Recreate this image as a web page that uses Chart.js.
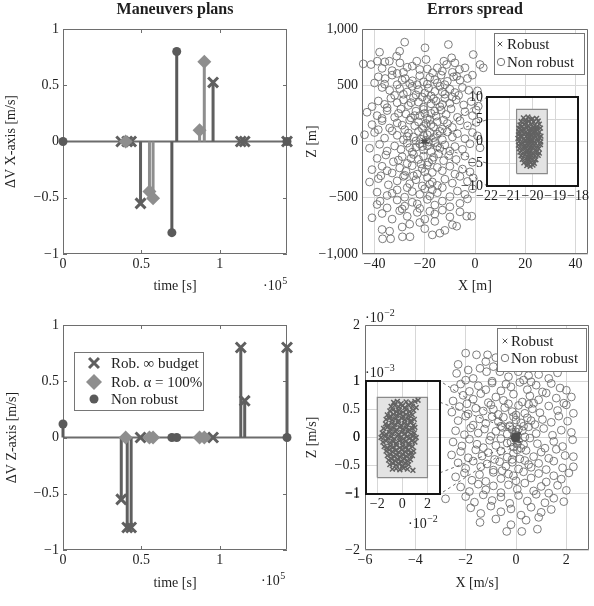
<!DOCTYPE html>
<html>
<head>
<meta charset="utf-8">
<title>Maneuvers plans / Errors spread</title>
<script src="https://cdn.jsdelivr.net/npm/chart.js@4.4.1/dist/chart.umd.min.js"></script>
<style>
  html, body { margin: 0; padding: 0; background: #fff; }
  #figure { position: relative; width: 594px; height: 606px; overflow: hidden; }
  #figure canvas { position: absolute; }
</style>
</head>
<body>
<div id="figure"></div>
<script>
// ---------- data: maneuver plans (time in s, delta-V in m/s) ----------
const tCross     = [37200, 41000, 43500, 49500, 95800, 113500, 116000, 143000];
const dvXCross   = [0, 0, 0, -0.55, 0.525, 0, 0, 0];
const dvZCross   = [-0.55, -0.8, -0.8, 0, 0, 0.8, 0.326, 0.8];
const tDiamond   = [40000, 55200, 57500, 87200, 90200];
const dvXDiamond = [0, -0.445, -0.505, 0.1, 0.71];
const dvZDiamond = [0, 0, 0, 0, 0];
const tCircle    = [0, 69500, 72600, 143000];
const dvXCircle  = [0, -0.81, 0.8, 0];
const dvZCircle  = [0.12, 0, 0, 0];
const stemSeries = ['Rob. \u221e budget', 'Rob. \u03b1 = 100%', 'Non robust'];
const timeTicks  = [0, 50000, 100000];
const dvTicks    = [-1, -0.5, 0, 0.5, 1];

// ---------- data: errors spread, position (m) ----------
const spreadSeries = ['Robust', 'Non robust'];
const posXTicks = [-40, -20, 0, 20, 40];
const posZTicks = [-1000, -500, 0, 500, 1000];
const insetPosXTicks = [-22, -21, -20, -19, -18];
const insetPosZTicks = [-10, -5, 0, 5, 10];
const boxPosX = [-20.7, -19.35];
const boxPosZ = [-7.2, 7.2];
const nonRobustPos = [
  [-28,883],[-10.6,862],[-19.9,833],[-38,794],[-30,803],[-0.7,773],
  [-44.5,690],[-41.4,684],[-38.9,714],[-35.9,708],[-34.1,714],[-31.2,758],[-29.9,699],[-23.2,714],[-19.5,729],[-12.4,714],[-9.3,744],[-8,699],[2,684],[3.3,655],
  [-37,650],[-33,630],[-27,660],[-25,670],[-22,640],[-19,645],[-15,655],[-11.3,684],[-6.2,640],[-4,655],[-16.9,610],[-13,625],[-9,615],[-28.5,615],[-31,605],
  [-38.5,575],[-35.8,560],[-33,590],[-29,545],[-27.8,560],[-24.9,540],[-22,585],[-20.5,530],[-18,570],[-16,550],[-13.5,590],[-11,535],[-8.5,575],[-6,545],[-3,560],[-40,520],[-36,510],[-31,505],[-26,515],[-23,505],[-19,510],[-15,520],[-12,505],[-7.3,580],[-1,590],
  [-37,480],[-34,455],[-30,470],[-27,440],[-25,490],[-22.5,460],[-20,430],[-18.5,475],[-16,445],[-14,490],[-12,420],[-10,465],[-8,435],[-5,480],[-2.5,455],[1,450],[-32,410],[-23.5,415],[-17.5,405],[-13,440],[-6.5,410],[-28.5,420],
  [-41,310],[-38.5,360],[-36,330],[-33.5,385],[-31,345],[-28.5,370],[-26.5,320],[-24.5,390],[-22.5,350],[-20.5,305],[-19,375],[-17.5,335],[-15.5,360],[-14,310],[-12,385],[-10,340],[-7.5,370],[-4.5,325],[-1.5,355],[1.3,314],[-35,300],[-25.5,345],[-21,395],[-16.5,380],[-13,330],[-9,395],
  [-43,260],[-39,230],[-35,275],[-32,215],[-29.5,290],[-27.5,245],[-25.5,210],[-23.5,270],[-22,230],[-20.5,285],[-19,205],[-17.5,250],[-15.5,225],[-13.5,280],[-11.5,240],[-9.5,290],[-7,215],[-4,265],[-1,230],[0.5,280],[-30.5,250],[-20,250],[-16,270],[-37,205],[-24,230],
  [-41,150],[-37,185],[-34,120],[-31,165],[-28,105],[-26,190],[-24,140],[-22.5,175],[-21,115],[-19.5,160],[-18,195],[-16.5,130],[-15,175],[-13,110],[-11,160],[-9,125],[-6,185],[-3,140],[0.5,170],[-29,145],[-20.5,135],[-17.5,150],[-12.5,190],[-38.5,105],
  [-44,60],[-40,80],[-36,30],[-33,95],[-31,55],[-28.5,15],[-26.5,75],[-24.5,40],[-22.5,90],[-21.5,20],[-20.5,55],[-19.5,10],[-18,80],[-16.5,35],[-15,65],[-13,15],[-11,85],[-9,40],[-7,70],[-4,25],[-1,80],[1,50],[-27,45],[-19,60],[-14,90],[-23.5,5],
  [-42,-60],[-38,-25],[-35,-85],[-32,-40],[-29.5,-70],[-27,-15],[-25,-95],[-23.5,-50],[-22,-20],[-20.5,-75],[-19,-40],[-17.5,-90],[-16,-10],[-14,-60],[-12,-30],[-10,-85],[-8,-45],[-5,-70],[-2,-20],[2,-56],[-26,-55],[-18.5,-5],[-15,-45],[-21,-45],
  [-39,-150],[-35.5,-120],[-32.5,-180],[-29,-135],[-27,-195],[-24.5,-115],[-22.5,-160],[-20.5,-130],[-18.5,-185],[-16.5,-140],[-14.5,-110],[-12.5,-170],[-10.5,-125],[-7.5,-160],[-4,-130],[-1,-185],[-30.5,-165],[-21.5,-200],[-17,-165],[-25.5,-150],
  [-41,-250],[-37,-220],[-33,-280],[-30,-235],[-27.5,-265],[-25,-215],[-23,-290],[-21,-240],[-19,-210],[-17,-275],[-15,-230],[-13,-260],[-10,-220],[-8,-290],[-5,-245],[-2,-270],[-28,-300],[-20,-270],[-35,-260],
  [-42,-360],[-38.5,-330],[-34.5,-385],[-31,-350],[-28.5,-310],[-26,-375],[-23.5,-340],[-21,-395],[-19,-320],[-17,-360],[-15,-390],[-12,-335],[-9,-370],[-6,-310],[-3,-355],[-0.7,-323],[-24.5,-305],[-18,-380],[-37.5,-305],
  [-39,-450],[-35,-480],[-31,-430],[-28,-495],[-25,-445],[-22,-470],[-20,-420],[-18,-485],[-15,-455],[-13,-410],[-10,-490],[-7,-440],[-4,-470],[-1,-420],[-27,-410],[-17,-430],[-33,-460],
  [-39,-560],[-37.8,-530],[-35,-590],[-31,-520],[-28,-575],[-25,-540],[-22,-595],[-19,-515],[-16,-565],[-13,-530],[-10,-580],[-6,-550],[-3,-510],[-23,-555],[-29,-600],
  [-41,-678],[-37,-640],[-33,-690],[-30,-615],[-27,-665],[-23,-630],[-20,-690],[-16,-645],[-13,-610],[-10,-670],[-6,-625],[-3.3,-664],[-1.3,-664],[-18,-620],
  [-37,-782],[-34,-797],[-29,-760],[-26,-735],[-20,-775],[-16,-710],[-12,-790],[-9,-740],[-7.3,-753],[-22,-720],
  [-36.8,-865],[-33.6,-865],[-28.9,-847],[-25.9,-847],[-17,-830],[-14,-815]
];
const robustPos = [
  [-20.4,5.3],[-20.2,5.5],[-20.0,5.1],[-19.82,5.2],[-20.3,4.8],
  [-20.5,4.5],[-20.3,4.3],[-20.15,4.6],[-19.95,4.4],[-19.75,4.6],[-20.05,4.9],
  [-20.55,3.7],[-20.35,3.9],[-20.2,3.5],[-20.05,3.8],[-19.9,3.6],[-19.7,3.9],[-20.45,3.4],[-19.8,3.3],
  [-20.6,3.0],[-20.4,2.8],[-20.25,3.1],[-20.1,2.9],[-19.95,3.1],[-19.8,2.8],[-19.65,3.0],[-20.5,2.6],[-20.0,2.6],
  [-20.6,2.2],[-20.45,2.4],[-20.3,2.1],[-20.15,2.3],[-20.0,2.0],[-19.85,2.3],[-19.7,2.1],[-20.55,1.9],[-20.2,1.8],[-19.9,1.9],
  [-20.62,1.5],[-20.5,1.3],[-20.35,1.6],[-20.2,1.4],[-20.05,1.6],[-19.9,1.3],[-19.75,1.5],[-19.63,1.2],[-20.28,1.1],[-20.1,1.0],
  [-20.64,0.7],[-20.5,0.9],[-20.38,0.6],[-20.22,0.8],[-20.08,0.5],[-19.95,0.8],[-19.8,0.6],[-19.68,0.8],[-20.3,0.3],[-20.0,0.3],[-20.15,0.2],
  [-20.6,0.0],[-20.45,-0.2],[-20.3,0.1],[-20.18,-0.1],[-20.05,0.0],[-19.9,-0.2],[-19.76,0.1],[-19.64,-0.1],[-20.25,-0.4],[-20.1,-0.3],[-19.98,-0.5],
  [-20.62,-0.8],[-20.48,-0.6],[-20.33,-0.9],[-20.2,-0.7],[-20.06,-1.0],[-19.92,-0.8],[-19.78,-0.9],[-19.65,-0.7],[-20.4,-1.2],[-20.12,-1.3],
  [-20.58,-1.6],[-20.44,-1.8],[-20.3,-1.5],[-20.15,-1.7],[-20.0,-1.5],[-19.86,-1.8],[-19.72,-1.6],[-20.22,-2.0],[-20.08,-2.1],
  [-20.55,-2.4],[-20.4,-2.6],[-20.25,-2.3],[-20.1,-2.5],[-19.96,-2.7],[-19.82,-2.4],[-19.7,-2.6],[-20.18,-2.9],
  [-20.5,-3.2],[-20.35,-3.0],[-20.2,-3.4],[-20.05,-3.1],[-19.9,-3.3],[-19.75,-3.1],[-20.12,-3.6],
  [-20.45,-4.0],[-20.3,-3.8],[-20.15,-4.2],[-20.0,-3.9],[-19.85,-4.1],[-20.22,-4.5],
  [-20.38,-4.8],[-20.22,-5.0],[-20.06,-4.7],[-19.92,-4.9],
  [-20.25,-5.4],[-20.1,-5.6],[-19.98,-5.3]
];

// ---------- data: errors spread, velocity (x 1e-2 m/s; inset x 1e-2 / 1e-3) ----------
const velXTicks = [-6, -4, -2, 0, 2];
const velZTicks = [-2, -1, 0, 1, 2];
const insetVelXTicks = [-2, 0, 2];
const insetVelZTicks = [-1, -0.5, 0, 0.5, 1];
const boxVelX = [-2, 2];
const boxVelZ = [-0.71, 0.71];
const insetToMain = 0.1;
const nonRobustVel = [
  [-2.0,1.5],[-1.57,1.47],[-1.13,1.47],[-0.8,1.42],
  [-1.9,1.2],[-1.43,1.23],[-0.9,1.26],[-2.3,1.3],[-1.2,1.35],[-0.55,1.32],
  [-2.36,1.14],[-1.17,1.17],[-0.64,1.17],[0.09,1.17],[-1.7,1.05],[-0.3,1.08],[0.5,1.1],[0.9,1.12],[1.3,1.05],[-2.0,1.02],[-0.95,1.0],[1.65,1.15],[0.3,1.02],
  [-2.45,0.87],[-2.2,0.95],[-1.85,0.82],[-1.5,0.92],[-1.2,0.85],[-0.95,0.97],[-0.6,0.83],[-0.2,0.9],[0.15,0.98],[0.45,0.85],[0.8,0.93],[1.05,0.81],[1.4,0.96],[1.75,0.88],[-0.4,0.95],[0.6,0.99],[2.0,0.84],
  [-2.5,0.65],[-2.1,0.75],[-1.7,0.68],[-1.4,0.78],[-1.1,0.62],[-0.8,0.72],[-0.5,0.66],[-0.1,0.77],[0.25,0.63],[0.55,0.74],[0.9,0.67],[1.2,0.79],[1.6,0.7],[1.9,0.61],[-0.3,0.6],[0.7,0.61],[2.2,0.72],[-1.95,0.6],
  [-2.55,0.45],[-2.25,0.55],[-1.9,0.42],[-1.6,0.52],[-1.3,0.47],[-1.0,0.58],[-0.7,0.41],[-0.45,0.53],[-0.15,0.46],[0.1,0.57],[0.35,0.43],[0.65,0.51],[0.95,0.44],[1.3,0.56],[1.65,0.48],[2.0,0.58],[2.28,0.43],[-0.9,0.5],[0.5,0.59],[0.0,0.4],
  [-2.3,0.3],[-2.0,0.38],[-1.7,0.22],[-1.45,0.33],[-1.2,0.25],[-0.95,0.37],[-0.7,0.28],[-0.5,0.36],[-0.25,0.21],[0.0,0.31],[0.2,0.26],[0.45,0.35],[0.75,0.23],[1.05,0.32],[1.4,0.27],[1.7,0.38],[2.05,0.29],[-0.1,0.37],[0.3,0.2],[-0.6,0.2],[0.6,0.3],
  [-2.4,0.12],[-2.05,0.05],[-1.8,0.17],[-1.5,0.08],[-1.25,0.15],[-1.0,0.02],[-0.8,0.11],[-0.55,0.18],[-0.35,0.06],[-0.15,0.14],[0.05,0.03],[0.25,0.12],[0.5,0.19],[0.8,0.07],[1.1,0.16],[1.45,0.04],[1.8,0.13],[2.2,0.09],[0.0,0.1],[0.1,0.15],[-0.05,0.05],[-0.25,0.19],[0.35,0.01],
  [-2.5,-0.08],[-2.15,-0.15],[-1.85,-0.03],[-1.55,-0.12],[-1.3,-0.18],[-1.05,-0.05],[-0.8,-0.14],[-0.6,-0.02],[-0.35,-0.1],[-0.1,-0.17],[0.1,-0.06],[0.3,-0.13],[0.55,-0.01],[0.85,-0.11],[1.15,-0.19],[1.5,-0.07],[1.85,-0.16],[2.25,-0.04],[0.0,-0.03],[-0.2,-0.08],[0.2,-0.19],[0.05,-0.12],
  [-2.56,-0.31],[-2.2,-0.25],[-1.9,-0.36],[-1.6,-0.22],[-1.35,-0.33],[-1.1,-0.27],[-0.85,-0.39],[-0.6,-0.24],[-0.35,-0.35],[-0.1,-0.28],[0.15,-0.38],[0.4,-0.23],[0.7,-0.34],[1.0,-0.26],[1.3,-0.37],[1.6,-0.21],[1.95,-0.32],[2.28,-0.34],[0.05,-0.22],[-0.15,-0.39],
  [-2.3,-0.45],[-2.0,-0.55],[-1.7,-0.42],[-1.4,-0.52],[-1.15,-0.47],[-0.9,-0.58],[-0.65,-0.43],[-0.4,-0.51],[-0.15,-0.44],[0.1,-0.56],[0.35,-0.41],[0.6,-0.53],[0.9,-0.46],[1.2,-0.57],[1.5,-0.42],[1.85,-0.54],[2.28,-0.52],[0.5,-0.48],[-0.55,-0.59],
  [-2.4,-0.7],[-2.05,-0.63],[-1.75,-0.76],[-1.45,-0.66],[-1.2,-0.78],[-0.9,-0.62],[-0.6,-0.73],[-0.3,-0.65],[0.0,-0.77],[0.3,-0.61],[0.6,-0.72],[0.9,-0.64],[1.2,-0.79],[1.5,-0.68],[1.8,-0.74],[2.1,-0.63],[-0.1,-0.68],
  [-2.2,-0.88],[-1.85,-0.96],[-1.5,-0.83],[-1.2,-0.93],[-0.9,-0.86],[-0.6,-0.98],[-0.3,-0.84],[0.05,-0.92],[0.35,-0.81],[0.7,-0.95],[1.0,-0.87],[1.3,-0.99],[1.65,-0.85],[2.0,-0.94],
  [-2.8,-1.09],[-2.0,-1.05],[-1.65,-1.15],[-1.3,-1.02],[-0.95,-1.12],[-0.6,-1.06],[-0.25,-1.17],[0.1,-1.03],[0.45,-1.13],[0.8,-1.01],[1.15,-1.16],[1.5,-1.08],[1.9,-1.14],
  [-1.8,-1.25],[-1.4,-1.35],[-1.0,-1.22],[-0.6,-1.32],[-0.2,-1.27],[0.2,-1.38],[0.6,-1.24],[1.0,-1.33],[1.4,-1.28],
  [-1.43,-1.51],[-0.8,-1.45],[-0.2,-1.55],[0.4,-1.47],[0.9,-1.42],
  [-0.37,-1.67],[0.23,-1.67],[0.85,-1.63]
];
const robustVel = [
  [-0.7,0.62],[-0.4,0.64],[-0.1,0.6],[0.3,0.63],[0.7,0.61],[1.0,0.64],[1.25,0.66],
  [-0.9,0.55],[-0.6,0.57],[-0.3,0.54],[0.0,0.56],[0.2,0.53],[0.5,0.57],[0.8,0.55],[1.1,0.53],
  [-1.0,0.47],[-0.75,0.49],[-0.5,0.46],[-0.25,0.48],[0.05,0.45],[0.3,0.49],[0.6,0.46],[0.9,0.48],
  [-1.2,0.4],[-0.95,0.38],[-0.7,0.41],[-0.45,0.39],[-0.2,0.42],[0.05,0.38],[0.3,0.41],[0.55,0.39],[0.8,0.4],
  [-1.3,0.32],[-1.05,0.34],[-0.8,0.31],[-0.55,0.33],[-0.3,0.3],[-0.05,0.34],[0.2,0.31],[0.45,0.33],[0.7,0.3],[0.95,0.32],
  [-1.35,0.24],[-1.1,0.22],[-0.85,0.25],[-0.6,0.23],[-0.35,0.26],[-0.1,0.22],[0.15,0.25],[0.4,0.23],[0.65,0.26],[0.9,0.22],
  [-1.5,0.16],[-1.2,0.18],[-0.95,0.15],[-0.7,0.17],[-0.45,0.14],[-0.2,0.18],[0.05,0.15],[0.3,0.17],[0.55,0.14],[0.8,0.16],[1.0,0.18],
  [-1.6,0.08],[-1.3,0.06],[-1.05,0.09],[-0.8,0.07],[-0.55,0.1],[-0.3,0.06],[-0.05,0.09],[0.2,0.07],[0.45,0.1],[0.7,0.06],[0.95,0.08],
  [-1.7,0.0],[-1.4,0.02],[-1.15,-0.01],[-0.9,0.01],[-0.65,-0.02],[-0.4,0.02],[-0.15,0.0],[0.1,-0.02],[0.35,0.01],[0.6,-0.01],[0.85,0.02],[1.1,0.0],
  [-1.55,-0.08],[-1.3,-0.06],[-1.0,-0.09],[-0.75,-0.07],[-0.5,-0.1],[-0.25,-0.06],[0.0,-0.09],[0.25,-0.07],[0.5,-0.1],[0.75,-0.06],[1.0,-0.08],
  [-1.45,-0.16],[-1.2,-0.18],[-0.95,-0.15],[-0.7,-0.17],[-0.45,-0.14],[-0.2,-0.18],[0.05,-0.15],[0.3,-0.17],[0.55,-0.14],[0.8,-0.16],
  [-1.3,-0.24],[-1.05,-0.22],[-0.8,-0.25],[-0.55,-0.23],[-0.3,-0.26],[-0.05,-0.22],[0.2,-0.25],[0.45,-0.23],[0.7,-0.26],[0.9,-0.24],
  [-1.2,-0.32],[-0.95,-0.3],[-0.7,-0.33],[-0.45,-0.31],[-0.2,-0.34],[0.05,-0.3],[0.3,-0.33],[0.55,-0.31],[0.8,-0.32],
  [-1.1,-0.4],[-0.85,-0.38],[-0.6,-0.41],[-0.35,-0.39],[-0.1,-0.42],[0.15,-0.38],[0.4,-0.41],[0.65,-0.39],
  [-1.0,-0.48],[-0.75,-0.46],[-0.5,-0.49],[-0.25,-0.47],[0.0,-0.5],[0.25,-0.46],[0.5,-0.48],
  [-0.8,-0.56],[-0.5,-0.55],[-0.2,-0.57],[0.1,-0.54],[0.4,-0.56],[0.84,-0.58]
];

// ---------- look ----------
const FONT = "'Liberation Serif', 'Times New Roman', serif";
const INK = '#1e1e1e';
const FRAME = '#6e6e6e';
const GRID = '#d7d7d7';
const C_ZERO = '#6c6c6c';
const MK_CROSS   = { style: 'crossRot', r: 7, lw: 3, color: '#5f5f5f' };
const MK_DIAMOND = { style: 'rectRot', r: 7, lw: 0, color: '#8e8e8e' };
const MK_CIRCLE  = { style: 'circle', r: 4.5, lw: 0, color: '#5a5a5a' };
const MK_ROB     = { style: 'crossRot', r: 3.4, lw: 1.5, color: '#626262' };
const MK_ROB_MAIN = { style: 'crossRot', r: 1.6, lw: 1, color: '#4e4e4e' };
const MK_NONROB  = { style: 'circle', r: 3.9, lw: 0.9, color: '#6e6e6e', hollow: true };

Chart.defaults.font.family = FONT;

const PANELS = {
  stemX:   { left: 0,   top: 0,   w: 297, h: 303 },
  spreadP: { left: 297, top: 0,   w: 297, h: 303 },
  stemZ:   { left: 0,   top: 303, w: 297, h: 303 },
  spreadV: { left: 297, top: 303, w: 297, h: 303 },
  insetP:  { left: 455, top: 88,  w: 135, h: 117 },
  insetV:  { left: 318, top: 355, w: 130, h: 180 }
};
const fig = document.getElementById('figure');
const canvases = {};
Object.keys(PANELS).forEach(k => {
  const p = PANELS[k];
  const c = document.createElement('canvas');
  c.width = p.w; c.height = p.h;
  c.style.left = p.left + 'px'; c.style.top = p.top + 'px';
  c.style.width = p.w + 'px'; c.style.height = p.h + 'px';
  fig.appendChild(c);
  canvases[k] = c;
});

// ---------- helpers ----------
const minus = v => String(v).replace('-', '\u2212');
const thousands = v => (v < 0 ? '\u2212' : '') + Math.abs(v).toLocaleString('en-US');
const xy = arr => arr.map(([x, y]) => ({ x, y }));
const pts = (ts, vs) => ts.map((t, i) => ({ x: t, y: vs[i] }));
function stemLine(ts, vs) {
  const out = [];
  ts.forEach((t, i) => out.push({ x: t, y: 0 }, { x: t, y: vs[i] }, { x: t, y: null }));
  return out;
}
function rectPts(bx, bz) {
  return [{ x: bx[0], y: bz[0] }, { x: bx[1], y: bz[0] }, { x: bx[1], y: bz[1] }, { x: bx[0], y: bz[1] }, { x: bx[0], y: bz[0] }];
}
function markerOpts(m) {
  return {
    pointStyle: m.style, pointRadius: m.r, pointHoverRadius: m.r,
    pointBorderWidth: m.lw, pointBorderColor: m.color,
    pointBackgroundColor: m.hollow ? 'rgba(0,0,0,0)' : m.color,
    showLine: false, clip: false
  };
}
function drawMarker(ctx, m, x, y) {
  ctx.save();
  ctx.beginPath();
  if (m.style === 'crossRot') {
    const d = m.r * Math.SQRT1_2;
    ctx.moveTo(x - d, y - d); ctx.lineTo(x + d, y + d);
    ctx.moveTo(x - d, y + d); ctx.lineTo(x + d, y - d);
    ctx.strokeStyle = m.color; ctx.lineWidth = m.lw; ctx.stroke();
  } else if (m.style === 'rectRot') {
    ctx.moveTo(x - m.r, y); ctx.lineTo(x, y - m.r); ctx.lineTo(x + m.r, y); ctx.lineTo(x, y + m.r);
    ctx.closePath(); ctx.fillStyle = m.color; ctx.fill();
  } else {
    ctx.arc(x, y, m.r, 0, Math.PI * 2);
    if (m.hollow) { ctx.strokeStyle = m.color; ctx.lineWidth = m.lw; ctx.stroke(); }
    else { ctx.fillStyle = m.color; ctx.fill(); }
  }
  ctx.restore();
}

function axis(o) {
  return {
    type: 'linear', min: o.min, max: o.max,
    afterBuildTicks: s => { s.ticks = o.ticks.map(v => ({ value: v })); },
    afterFit: s => {
      if (s.isHorizontal()) s.height = o.size; else s.width = o.size;
      s.paddingLeft = s.paddingRight = s.paddingTop = s.paddingBottom = 0;
    },
    ticks: {
      autoSkip: false, maxRotation: 0, minRotation: 0, padding: o.pad, color: INK,
      font: { family: FONT, size: 14 }, callback: v => (o.fmt || minus)(v)
    },
    grid: { display: !!o.grid, color: GRID, lineWidth: 1, drawTicks: false },
    border: { display: false },
    title: o.title
      ? { display: true, text: o.title, color: INK, font: { family: FONT, size: 14 }, padding: o.titlePad }
      : { display: false }
  };
}
function titleOpt(text) {
  return text
    ? { display: true, text, fullSize: false, color: INK, font: { family: FONT, size: 16, weight: 'bold' }, padding: { top: 0, bottom: 9.8 } }
    : { display: false };
}
function baseOptions(extra) {
  return Object.assign({ responsive: false, animation: false, devicePixelRatio: 1, events: [] }, extra);
}

function framePlugin(id, inward) {
  return {
    id,
    beforeDatasetsDraw(chart) {
      const { ctx, chartArea: a, scales: { x, y } } = chart;
      ctx.save();
      ctx.strokeStyle = FRAME; ctx.lineWidth = 1;
      ctx.beginPath();
      if (inward) {
        x.ticks.forEach(t => {
          const p = Math.round(x.getPixelForValue(t.value)) + 0.5;
          ctx.moveTo(p, a.bottom); ctx.lineTo(p, a.bottom - 4);
          ctx.moveTo(p, a.top); ctx.lineTo(p, a.top + 4);
        });
        y.ticks.forEach(t => {
          const p = Math.round(y.getPixelForValue(t.value)) + 0.5;
          ctx.moveTo(a.left, p); ctx.lineTo(a.left + 4, p);
          ctx.moveTo(a.right, p); ctx.lineTo(a.right - 4, p);
        });
      }
      ctx.rect(a.left + 0.5, a.top + 0.5, a.width - 1, a.height - 1);
      ctx.stroke();
      ctx.restore();
    }
  };
}
const insetFrame = {
  id: 'insetFrame',
  beforeDraw(chart) {
    const { ctx, chartArea: a } = chart;
    ctx.save(); ctx.fillStyle = '#fff'; ctx.fillRect(a.left, a.top, a.width, a.height); ctx.restore();
  },
  afterDatasetsDraw(chart) {
    const { ctx, chartArea: a } = chart;
    ctx.save(); ctx.strokeStyle = '#151515'; ctx.lineWidth = 2; ctx.strokeRect(a.left, a.top, a.width, a.height); ctx.restore();
  }
};
function legendPlugin(id, place, entries, fontSize) {
  return {
    id,
    afterDraw(chart) {
      const { ctx, chartArea: a } = chart;
      const b = place(a);
      ctx.save();
      ctx.fillStyle = '#fff'; ctx.fillRect(b.x, b.y, b.w, b.h);
      ctx.strokeStyle = '#767676'; ctx.lineWidth = 1; ctx.strokeRect(b.x + 0.5, b.y + 0.5, b.w, b.h);
      entries.forEach(e => {
        drawMarker(ctx, e.marker, b.x + e.mx, b.y + e.dy);
        ctx.font = fontSize + 'px ' + FONT; ctx.fillStyle = INK;
        ctx.textBaseline = 'middle'; ctx.textAlign = 'left';
        ctx.fillText(e.text, b.x + e.tx, b.y + e.dy + 1);
      });
      ctx.restore();
    }
  };
}
function sciPlugin(id, items) {
  return {
    id,
    afterDraw(chart) {
      const { ctx, chartArea: a } = chart;
      items.forEach(it => {
        const p = it.at(a);
        ctx.save();
        ctx.fillStyle = INK; ctx.textBaseline = 'alphabetic'; ctx.textAlign = 'left';
        ctx.font = '14px ' + FONT;
        ctx.fillText('\u00b710', p.x, p.y);
        const w = ctx.measureText('\u00b710').width;
        ctx.font = '10px ' + FONT;
        ctx.fillText(it.exp, p.x + w + 0.5, p.y - 6);
        ctx.restore();
      });
    }
  };
}
function zoomLines(id, getLines) {
  return {
    id,
    afterDatasetsDraw(chart) {
      const ctx = chart.ctx;
      ctx.save();
      ctx.strokeStyle = '#4a4a4a'; ctx.lineWidth = 0.8; ctx.setLineDash([3, 3]);
      ctx.beginPath();
      getLines(chart).forEach(([p, q]) => { ctx.moveTo(p[0], p[1]); ctx.lineTo(q[0], q[1]); });
      ctx.stroke();
      ctx.restore();
    }
  };
}

// ---------- maneuver plan panels ----------
function stemPanel(canvas, dvCross, dvDiamond, dvCircle, o) {
  return new Chart(canvas, {
    type: 'scatter',
    data: {
      datasets: [
        Object.assign({ data: pts(tCircle, dvCircle), order: 0 }, markerOpts(MK_CIRCLE)),
        Object.assign({ data: pts(tDiamond, dvDiamond), order: 1 }, markerOpts(MK_DIAMOND)),
        Object.assign({ data: pts(tCross, dvCross), order: 2 }, markerOpts(MK_CROSS)),
        { data: stemLine(tCircle, dvCircle), showLine: true, spanGaps: false, pointRadius: 0, borderColor: MK_CIRCLE.color, borderWidth: 3, order: 3, clip: false },
        { data: stemLine(tDiamond, dvDiamond), showLine: true, spanGaps: false, pointRadius: 0, borderColor: MK_DIAMOND.color, borderWidth: 3, order: 4, clip: false },
        { data: stemLine(tCross, dvCross), showLine: true, spanGaps: false, pointRadius: 0, borderColor: MK_CROSS.color, borderWidth: 3, order: 5, clip: false },
        { data: [{ x: timeTicks[0], y: 0 }, { x: tCross[tCross.length - 1], y: 0 }], showLine: true, pointRadius: 0, borderColor: C_ZERO, borderWidth: 2, order: 6 }
      ]
    },
    options: baseOptions({
      layout: { padding: { left: 0, right: 8, top: o.top, bottom: 0 } },
      plugins: { legend: { display: false }, tooltip: { enabled: false }, title: titleOpt(o.title) },
      scales: {
        x: axis({ min: 0, max: 143000, ticks: timeTicks, size: o.xSize, pad: 2, fmt: v => String(v / 1e5),
                  title: 'time [s]', titlePad: { top: 0, bottom: o.xTitlePad } }),
        y: axis({ min: -1, max: 1, ticks: dvTicks, size: 63, pad: 4,
                  title: o.yTitle, titlePad: { top: o.yTitlePad, bottom: 0 } })
      }
    }),
    plugins: o.plugins
  });
}

stemPanel(canvases.stemX, dvXCross, dvXDiamond, dvXCircle, {
  title: 'Maneuvers plans', top: 0, xSize: 49, xTitlePad: 8, yTitle: '\u0394V X-axis [m/s]', yTitlePad: 3,
  plugins: [framePlugin('frameX', true), sciPlugin('sciX', [{ exp: '5', at: a => ({ x: a.right - 24, y: a.bottom + 36 }) }])]
});

stemPanel(canvases.stemZ, dvZCross, dvZDiamond, dvZCircle, {
  title: null, top: 22, xSize: 56, xTitlePad: 14, yTitle: '\u0394V Z-axis [m/s]', yTitlePad: 4,
  plugins: [
    framePlugin('frameZ', true),
    sciPlugin('sciZ', [{ exp: '5', at: a => ({ x: a.right - 26, y: a.bottom + 35 }) }]),
    legendPlugin('legendZ', a => ({ x: a.left + 11, y: a.top + 27, w: 129, h: 58 }), [
      { marker: MK_CROSS, text: stemSeries[0], mx: 20, tx: 37, dy: 11 },
      { marker: Object.assign({}, MK_DIAMOND, { r: 8 }), text: stemSeries[1], mx: 20, tx: 37, dy: 30 },
      { marker: MK_CIRCLE, text: stemSeries[2], mx: 20, tx: 37, dy: 47 }
    ], 15)
  ]
});

// ---------- insets (created first so the main panels can aim their zoom lines) ----------
const insetP = new Chart(canvases.insetP, {
  type: 'scatter',
  data: {
    datasets: [
      Object.assign({ data: xy(robustPos), order: 0 }, markerOpts(MK_ROB), { clip: true }),
      { data: rectPts(boxPosX, boxPosZ), showLine: true, fill: 'shape', backgroundColor: '#e3e3e3',
        borderColor: '#8a8a8a', borderWidth: 1.2, pointRadius: 0, order: 1 }
    ]
  },
  options: baseOptions({
    layout: { padding: { left: 0, right: 12, top: 9, bottom: 0 } },
    plugins: { legend: { display: false }, tooltip: { enabled: false } },
    scales: {
      x: axis({ min: -22, max: -18, ticks: insetPosXTicks, size: 19, pad: 2, grid: true }),
      y: axis({ min: -10, max: 10, ticks: insetPosZTicks, size: 32, pad: 4, grid: true })
    }
  }),
  plugins: [insetFrame]
});

const insetV = new Chart(canvases.insetV, {
  type: 'scatter',
  data: {
    datasets: [
      Object.assign({ data: xy(robustVel), order: 0 }, markerOpts(MK_ROB), { clip: true }),
      { data: rectPts(boxVelX, boxVelZ), showLine: true, fill: 'shape', backgroundColor: '#e3e3e3',
        borderColor: '#8a8a8a', borderWidth: 1.2, pointRadius: 0, order: 1 }
    ]
  },
  options: baseOptions({
    layout: { padding: { left: 0, right: 8, top: 26, bottom: 0 } },
    plugins: { legend: { display: false }, tooltip: { enabled: false } },
    scales: {
      x: axis({ min: -2.9, max: 3.0, ticks: insetVelXTicks, size: 41, pad: 2, grid: true }),
      y: axis({ min: -1, max: 1, ticks: insetVelZTicks, size: 48, pad: 6, grid: true })
    }
  }),
  plugins: [insetFrame, sciPlugin('sciInsetV', [
    { exp: '\u22123', at: a => ({ x: a.left - 1, y: a.top - 4 }) },
    { exp: '\u22122', at: a => ({ x: a.left + 42, y: a.bottom + 34 }) }
  ])]
});

function insetPoint(key, host, px, py) {
  const P = PANELS[key], H = PANELS[host];
  return [px + P.left - H.left, py + P.top - H.top];
}

// ---------- errors spread: position ----------
new Chart(canvases.spreadP, {
  type: 'scatter',
  data: {
    datasets: [
      Object.assign({ data: xy(robustPos), order: 0 }, markerOpts(MK_ROB_MAIN)),
      Object.assign({ data: xy(nonRobustPos), order: 1 }, markerOpts(MK_NONROB))
    ]
  },
  options: baseOptions({
    layout: { padding: { left: 0, right: 6, top: 0, bottom: 0 } },
    plugins: { legend: { display: false }, tooltip: { enabled: false }, title: titleOpt('Errors spread') },
    scales: {
      x: axis({ min: -45, max: 45, ticks: posXTicks, size: 49, pad: 2, grid: true, title: 'X [m]', titlePad: { top: 0, bottom: 8 } }),
      y: axis({ min: -1000, max: 1000, ticks: posZTicks, size: 65, pad: 4, grid: true, fmt: thousands, title: 'Z [m]', titlePad: { top: 7, bottom: 0 } })
    }
  }),
  plugins: [
    framePlugin('frameP', false),
    zoomLines('linesP', chart => {
      const { x, y } = chart.scales;
      const ix = insetP.scales.x, iy = insetP.scales.y, ia = insetP.chartArea;
      const top = [x.getPixelForValue(boxPosX[1]), y.getPixelForValue(boxPosZ[1])];
      const bot = [x.getPixelForValue(boxPosX[1]), y.getPixelForValue(boxPosZ[0])];
      return [
        [top, insetPoint('insetP', 'spreadP', ia.left, ia.top)],
        [top, insetPoint('insetP', 'spreadP', ix.getPixelForValue(boxPosX[0]), iy.getPixelForValue(boxPosZ[1]))],
        [bot, insetPoint('insetP', 'spreadP', ix.getPixelForValue(boxPosX[0]), iy.getPixelForValue(boxPosZ[0]))],
        [bot, insetPoint('insetP', 'spreadP', ia.left, ia.bottom)]
      ];
    }),
    legendPlugin('legendP', a => ({ x: a.right - 94, y: a.top + 4, w: 90, h: 41 }), [
      { marker: { style: 'crossRot', r: 3.2, lw: 1, color: '#555' }, text: spreadSeries[0], mx: 6, tx: 13, dy: 11 },
      { marker: { style: 'circle', r: 3.7, lw: 0.9, color: '#666', hollow: true }, text: spreadSeries[1], mx: 7, tx: 13, dy: 29 }
    ], 15)
  ]
});

// ---------- errors spread: velocity ----------
new Chart(canvases.spreadV, {
  type: 'scatter',
  data: {
    datasets: [
      Object.assign({ data: robustVel.map(([vx, vz]) => ({ x: vx * insetToMain, y: vz * insetToMain })), order: 0 }, markerOpts(MK_ROB_MAIN)),
      Object.assign({ data: xy(nonRobustVel), order: 1 }, markerOpts(MK_NONROB))
    ]
  },
  options: baseOptions({
    layout: { padding: { left: 0, right: 5, top: 22, bottom: 0 } },
    plugins: { legend: { display: false }, tooltip: { enabled: false } },
    scales: {
      x: axis({ min: -6, max: 2.9, ticks: velXTicks, size: 56, pad: 2, grid: true, title: 'X [m/s]', titlePad: { top: 0, bottom: 14 } }),
      y: axis({ min: -2, max: 2, ticks: velZTicks, size: 68, pad: 5, grid: true, title: 'Z [m/s]', titlePad: { top: 7, bottom: 0 } })
    }
  }),
  plugins: [
    framePlugin('frameV', false),
    zoomLines('linesV', chart => {
      const { x, y } = chart.scales;
      const ix = insetV.scales.x, iy = insetV.scales.y, ia = insetV.chartArea;
      const top = [x.getPixelForValue(boxVelX[1] * insetToMain), y.getPixelForValue(boxVelZ[1] * insetToMain)];
      const bot = [x.getPixelForValue(boxVelX[1] * insetToMain), y.getPixelForValue(boxVelZ[0] * insetToMain)];
      return [
        [top, insetPoint('insetV', 'spreadV', ia.right, ia.top)],
        [top, insetPoint('insetV', 'spreadV', ix.getPixelForValue(boxVelX[1]), iy.getPixelForValue(boxVelZ[1]))],
        [bot, insetPoint('insetV', 'spreadV', ix.getPixelForValue(boxVelX[1]), iy.getPixelForValue(boxVelZ[0]))],
        [bot, insetPoint('insetV', 'spreadV', ia.right, ia.bottom)]
      ];
    }),
    sciPlugin('sciV', [{ exp: '\u22122', at: a => ({ x: a.left, y: a.top - 3 }) }]),
    legendPlugin('legendV', a => ({ x: a.right - 92, y: a.top + 3, w: 89, h: 43 }), [
      { marker: { style: 'crossRot', r: 3.2, lw: 1, color: '#555' }, text: spreadSeries[0], mx: 8, tx: 14, dy: 13 },
      { marker: { style: 'circle', r: 3.7, lw: 0.9, color: '#666', hollow: true }, text: spreadSeries[1], mx: 8, tx: 14, dy: 30 }
    ], 15)
  ]
});
</script>
</body>
</html>
